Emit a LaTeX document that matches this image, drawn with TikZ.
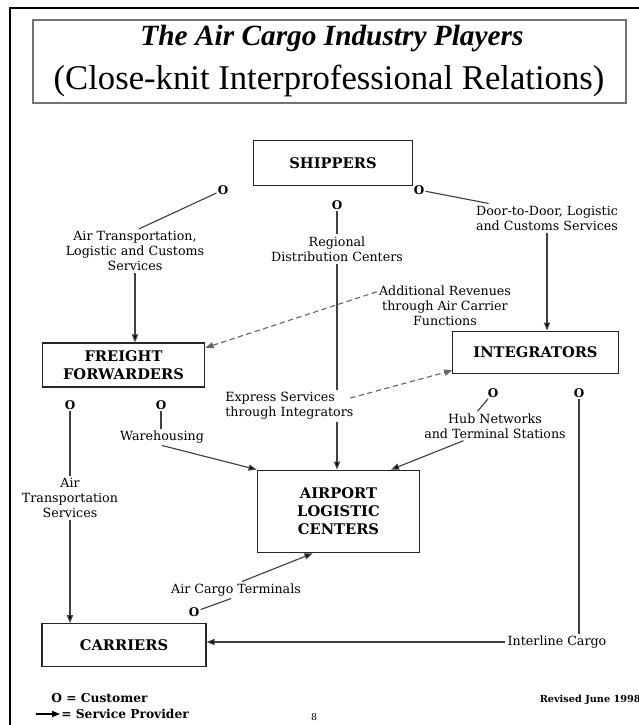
\documentclass[tikz,border=0pt]{standalone}
\usepackage{fontspec}
\setmainfont{DejaVu Serif}
\newfontfamily\titlefont{Liberation Serif}
\usetikzlibrary{positioning, arrows.meta}
\tikzset{
>={Triangle[length=6pt,width=4.6pt]}, % filled heads of the service arrows
player/.style={draw=black!85, line width=0.9pt, align=center, inner sep=2pt,
  font=\fontsize{11}{13.4}\selectfont\bfseries}, % the industry players
cust/.style={inner sep=0.8pt, font=\fontsize{9}{9}\selectfont\bfseries}, % customer mark
lbl/.style={align=center, inner sep=1.5pt, font=\fontsize{9.5}{11.3}\selectfont}, % service names
link/.style={draw=black!75, line width=0.85pt},
extra/.style={link, draw=black!60, dash pattern=on 4pt off 2.6pt}, % additional functions
}

\begin{document}
\begin{tikzpicture}[x=0.75pt, y=-0.75pt]
    \useasboundingbox (0,0) rectangle (639,725);
    % frame and heading
    \draw[line width=2.2pt] (10,725) -- (10,8) -- (639,8);
    \node[draw=black!55, line width=1.1pt, minimum width=444.75pt, minimum height=62.25pt] (TITLE) at (329.5,61.5) {};
    \node[font=\titlefont\fontsize{22}{24}\selectfont\bfseries\itshape] (head) at (332,38) {The Air Cargo Industry Players};
    \node[font=\titlefont\fontsize{26}{28}\selectfont] (subhead) at (329,81) {(Close-knit Interprofessional Relations)};

    % players
    \node[player, minimum width=119pt, minimum height=34pt] (SHIP) at (333,163) {SHIPPERS};
    \node[player, minimum width=122pt, minimum height=33pt] (FF) at (123.5,365) {FREIGHT\\FORWARDERS};
    \node[player, minimum width=124pt, minimum height=32pt] (INT) at (535.5,352.5) {INTEGRATORS};
    \node[player, minimum width=122pt, minimum height=62pt] (ALC) at (338.5,511.5) {AIRPORT\\LOGISTIC\\CENTERS};
    \node[player, minimum width=123pt, minimum height=32pt] (CAR) at (124,645) {CARRIERS};

    % customer marks
    \node[cust] (oSL) at (223,190) {O};
    \node[cust] (oSM) at (337,205) {O};
    \node[cust] (oSR) at (419,190) {O};
    \node[cust] (oFL) at (70,405) {O};
    \node[cust] (oFR) at (161,405) {O};
    \node[cust] (oIL) at (493,393) {O};
    \node[cust] (oIR) at (579,393) {O};
    \node[cust] (oCA) at (194,612) {O};

    % services
    \node[lbl] (labAT) at (135,251) {Air Transportation,\\Logistic and Customs\\Services};
    \node[lbl] (labRD) at (337,249) {Regional\\Distribution Centers};
    \node[lbl] (labDD) at (547,218) {Door-to-Door, Logistic\\and Customs Services};
    \node[lbl] (labAR) at (445,306) {Additional Revenues\\through Air Carrier\\Functions};
    \node[lbl] (labWH) at (162,437) {Warehousing};
    \node[lbl] (labHub) at (495,426) {Hub Networks\\and Terminal Stations};
    \node[lbl] (labATS) at (70,498) {Air\\Transportation\\Services};
    \node[lbl] (labACT) at (236,590) {Air Cargo Terminals};
    \node[lbl] (labIC) at (557,642) {Interline Cargo};

    \draw[link] (oSL) edge (labAT.80)
        (labAT.south) edge[->] (labAT.south |- FF.north)
        (oSM) edge (labRD.north)
        (labRD.south) edge[->] (labRD.south |- ALC.north)
        (oSR) edge (labDD.166)
        (labDD.south) edge[->] (labDD.south |- INT.north)
        (oFL) edge (labATS.north)
        (labATS.south) edge[->] (labATS.south |- CAR.north)
        (oFR) edge (oFR |- labWH.north)
        (labWH.south) edge[->] (ALC.north west)
        (oIL) edge (labHub.140)
        (labHub.205) edge[->] ([xshift=-22pt]ALC.north east)
        (oCA) edge (labACT.240)
        (labACT.55) edge[->] ([xshift=-19.5pt]ALC.south)
        (oIR) edge (oIR |- labIC.north)
        (labIC.west) edge[->] (labIC.west -| CAR.east);

    % sits over the regional line
    \node[lbl, align=left, anchor=west, fill=white] (labEX) at (223,406) {Express Services\\through Integrators};

    \draw[extra, ->] ([yshift=-6pt]labAR.north west) -- ([yshift=-4pt]FF.north east);
    \draw[extra, ->] ([xshift=-4pt, yshift=-6pt]labEX.north east) -- ([yshift=3pt]INT.south west);

    % key
    \node[cust, anchor=west, font=\fontsize{9.2}{10}\selectfont\bfseries] (keyO) at (50,698) {O = Customer};
    \node[cust, anchor=west, font=\fontsize{9.2}{10}\selectfont\bfseries] (keySP) at (60,714) {= Service Provider};
    \coordinate (keyA) at (36,714);
    \draw[->, line width=0.8pt] (keyA) -- (keySP.west);
    \node[font=\fontsize{7}{8}\selectfont] (page) at (314,717) {8};
    \node[anchor=east, inner sep=0pt, font=\fontsize{7.3}{8}\selectfont\bfseries] (rev) at (641,700) {Revised June 1998};
\end{tikzpicture}
\end{document}
